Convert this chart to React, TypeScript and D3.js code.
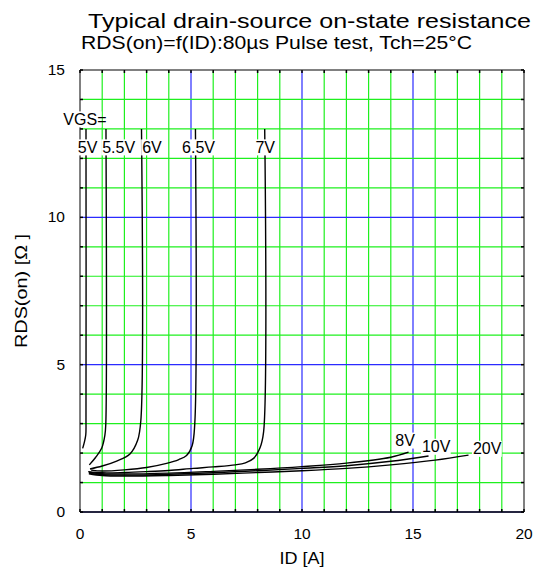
import React from 'react';
import * as d3 from 'd3';

// RDS(on) vs ID, one curve per gate voltage
const vgsLabels = ['5V', '5.5V', '6V', '6.5V', '7V', '8V', '10V', '20V'];

const curve5V = [[0.12, 2.16], [0.2, 2.38], [0.26, 2.62], [0.27, 3.2], [0.27, 13]];
const curve55V = [[0.42, 1.6], [0.7, 1.85], [0.98, 2.17], [1.12, 2.6], [1.16, 2.95], [1.17, 13]];
const curve6V = [[0.45, 1.46], [1.0, 1.56], [1.65, 1.73], [2.25, 1.97], [2.6, 2.44], [2.74, 3.1], [2.77, 13]];
const curve65V = [[0.5, 1.42], [1, 1.39], [2, 1.43], [3, 1.51], [3.9, 1.65], [4.45, 1.78], [4.8, 1.92], [5.05, 2.25], [5.17, 3.0], [5.2, 13]];
const curve7V = [[0.37, 1.37], [1, 1.33], [2, 1.34], [3, 1.37], [4, 1.41], [5.1, 1.48], [6, 1.53], [7, 1.6], [7.45, 1.67], [7.82, 1.82], [8.1, 2.16], [8.27, 2.72], [8.32, 13]];
const curve8V = [[0.4, 1.35], [1, 1.3], [2, 1.29], [4, 1.32], [6, 1.38], [8, 1.45], [10, 1.54], [12, 1.66], [14, 1.86], [14.8, 2.03]];
const curve10V = [[0.4, 1.32], [1, 1.27], [2, 1.25], [4, 1.28], [6, 1.33], [8, 1.4], [10, 1.48], [12, 1.57], [14, 1.72], [15.7, 1.9]];
const curve20V = [[0.4, 1.3], [1, 1.24], [2, 1.22], [4, 1.24], [6, 1.28], [8, 1.34], [10, 1.4], [12, 1.48], [14, 1.6], [16, 1.76], [17.5, 1.93]];

const curves = [curve5V, curve55V, curve6V, curve65V, curve7V, curve8V, curve10V, curve20V];

const xTicks = [0, 5, 10, 15, 20];
const yTicks = [0, 5, 10, 15];
const xGrid = d3.range(0, 21);
const yGrid = d3.range(0, 16);

const W = 540;
const H = 577;
const font = 'Liberation Sans, Arial, Helvetica, sans-serif';
const green = '#1ef01e';
const blue = '#2b2bff';

const Label: React.FC<{ x: number; y: number; text: string; size?: number }> = ({ x, y, text, size = 16 }) => {
  const w = text.length * size * 0.58;
  return (
    <g>
      <rect x={x - 1} y={y - size * 0.82} width={w + 2} height={size * 1.0} fill="#fff" />
      <text x={x} y={y} fontSize={size} fontFamily={font} fill="#000">{text}</text>
    </g>
  );
};

export default function App() {
  const margin = { top: 70, right: 16, bottom: 65, left: 80 };
  const x = d3.scaleLinear().domain([0, 20]).range([margin.left, W - margin.right]);
  const y = d3.scaleLinear().domain([0, 15]).range([H - margin.bottom, margin.top]);

  const line = d3.line<number[]>()
    .x(d => x(d[0]))
    .y(d => y(d[1]))
    .curve(d3.curveCatmullRom.alpha(0.5));

  const x0 = x(0), x1 = x(20), y0 = y(0), y1 = y(15);

  // label anchors (left edge, baseline) in data units
  const labelPos: [number, number][] = [
    [-0.1, 12.2], [1.0, 12.2], [2.8, 12.2], [4.6, 12.2], [7.9, 12.2],
    [14.2, 2.25], [15.4, 2.04], [17.7, 1.97],
  ];

  return (
    <svg width={W} height={H} style={{ position: 'absolute', left: 0, top: 0, background: '#fff' }}>
      {/* grid */}
      {xGrid.map(v => (
        <line key={'gx' + v} x1={x(v)} x2={x(v)} y1={y0} y2={y1}
          stroke={v % 5 === 0 ? blue : green} strokeWidth={1.2} />
      ))}
      {yGrid.map(v => (
        <line key={'gy' + v} x1={x0} x2={x1} y1={y(v)} y2={y(v)}
          stroke={v % 5 === 0 ? blue : green} strokeWidth={1.2} />
      ))}

      {/* border */}
      <line x1={x0} x2={x0} y1={y0} y2={y1} stroke="#808080" strokeWidth={2} />
      <line x1={x1} x2={x1} y1={y0} y2={y1} stroke="#808080" strokeWidth={2} />
      <line x1={x0} x2={x1} y1={y1} y2={y1} stroke="#808080" strokeWidth={2} />
      <line x1={x0} x2={x1} y1={y0} y2={y0} stroke="#000" strokeWidth={1.6} />

      {/* small inward ticks */}
      {xGrid.map(v => (
        <g key={'tx' + v}>
          <line x1={x(v)} x2={x(v)} y1={y1} y2={y1 + 3} stroke="#000" strokeWidth={1.5} />
          <line x1={x(v)} x2={x(v)} y1={y0} y2={y0 - 3} stroke="#000" strokeWidth={1.5} />
        </g>
      ))}
      {yGrid.map(v => (
        <g key={'ty' + v}>
          <line x1={x0} x2={x0 + 3} y1={y(v)} y2={y(v)} stroke="#000" strokeWidth={1.5} />
          <line x1={x1} x2={x1 - 3} y1={y(v)} y2={y(v)} stroke="#000" strokeWidth={1.5} />
        </g>
      ))}

      {/* curves */}
      {curves.map((c, i) => (
        <path key={'c' + i} d={line(c) || ''} fill="none" stroke="#000" strokeWidth={1.4} />
      ))}

      {/* curve labels */}
      <Label x={x(-0.75)} y={y(13.15)} text="VGS=" />
      {vgsLabels.map((t, i) => (
        <Label key={t} x={x(labelPos[i][0])} y={y(labelPos[i][1])} text={t} />
      ))}

      {/* tick labels */}
      {xTicks.map(v => (
        <text key={'xl' + v} x={x(v)} y={y0 + 27} textAnchor="middle" fontSize={15.5} fontFamily={font}>{v}</text>
      ))}
      {yTicks.map(v => (
        <text key={'yl' + v} x={x0 - 15} y={y(v) + 5} textAnchor="end" fontSize={15.5} fontFamily={font}>{v}</text>
      ))}

      {/* axis titles */}
      <text x={(x0 + x1) / 2} y={564} textAnchor="middle" fontSize={16} fontFamily={font}
        textLength={45} lengthAdjust="spacingAndGlyphs">ID [A]</text>
      <text transform={`translate(27,${(y0 + y1) / 2}) rotate(-90)`} textAnchor="middle" fontSize={16} fontFamily={font}
        textLength={114} lengthAdjust="spacingAndGlyphs">RDS(on) [Ω ]</text>

      {/* titles */}
      <text x={88} y={28} fontSize={21} fontFamily={font}
        textLength={443} lengthAdjust="spacingAndGlyphs">Typical drain-source on-state resistance</text>
      <text x={81} y={49} fontSize={18.5} fontFamily={font}
        textLength={391} lengthAdjust="spacingAndGlyphs">RDS(on)=f(ID):80µs Pulse test, Tch=25°C</text>
    </svg>
  );
}
